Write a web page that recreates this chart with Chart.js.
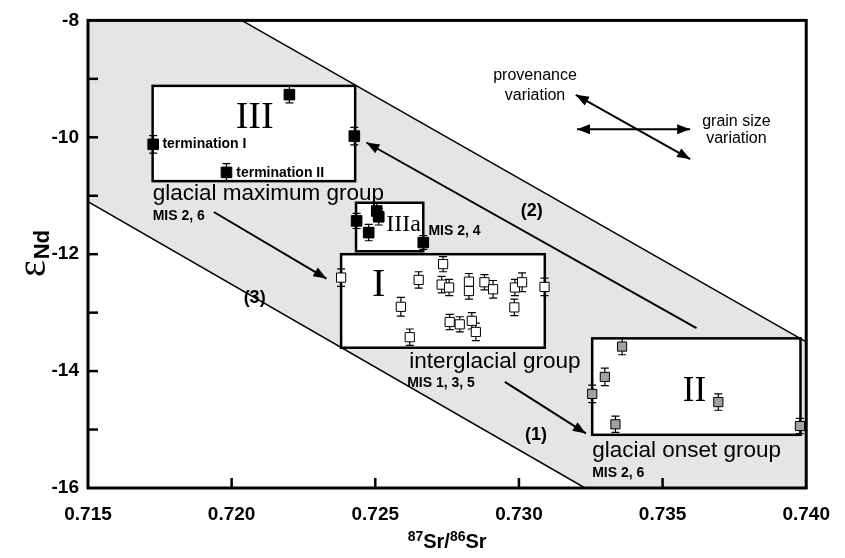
<!DOCTYPE html>
<html>
<head>
<meta charset="utf-8">
<script src="https://cdn.jsdelivr.net/npm/chart.js@4.4.1/dist/chart.umd.min.js"></script>
<style>
  html, body { margin: 0; padding: 0; background: #fff; }
  #wrap { width: 845px; height: 558px; position: relative; }
</style>
</head>
<body>
<div id="wrap"><canvas id="chart"></canvas></div>
<script>
// axis ticks
const xTicks = [0.715, 0.720, 0.725, 0.730, 0.735, 0.740];
const yTicks = [-16, -15, -14, -13, -12, -11, -10, -9, -8];
const yLabeled = [-16, -14, -12, -10, -8];

// glacial maximum group (III, IIIa) - black
const blackX = [0.71727, 0.71982, 0.72201, 0.72427, 0.72435, 0.72477, 0.72505, 0.72512, 0.72667];
const blackY = [-10.12, -10.60, -9.27, -9.98, -11.43, -11.63, -11.26, -11.36, -11.80];
const blackErr = [0.15, 0.15, 0.14, 0.15, 0.13, 0.14, 0.14, 0.14, 0.12];

// interglacial group (I) - open
const openX = [0.72381, 0.72589, 0.72620, 0.72651, 0.72736, 0.72731, 0.72757, 0.72759, 0.72794, 0.72836,
  0.72850, 0.72826, 0.72826, 0.72880, 0.72910, 0.72986, 0.73011, 0.72984, 0.73089];
const openY = [-12.40, -12.90, -13.42, -12.44, -12.17, -12.52, -12.57, -13.16, -13.20, -13.14,
  -13.33, -12.47, -12.63, -12.48, -12.60, -12.57, -12.48, -12.91, -12.56];
const openErr = [0.15, 0.16, 0.14, 0.14, 0.13, 0.14, 0.14, 0.13, 0.13, 0.14,
  0.15, 0.14, 0.14, 0.13, 0.15, 0.14, 0.16, 0.14, 0.15];

// glacial onset group (II) - gray
const grayX = [0.73359, 0.73299, 0.73255, 0.73336, 0.73694, 0.73978];
const grayY = [-13.58, -14.10, -14.39, -14.91, -14.53, -14.94];
const grayErr = [0.14, 0.15, 0.15, 0.14, 0.14, 0.13];

// grey band edges
const bandUpperX = [0.72035, 0.740];
const bandUpperY = [-8, -13.5];
const bandLowerX = [0.715, 0.7323];
const bandLowerY = [-11.1, -16];

// group boxes: III, IIIa, I, II
const boxX0 = [0.71725, 0.72433, 0.72381, 0.73255];
const boxX1 = [0.72430, 0.72667, 0.73090, 0.73980];
const boxY0 = [-10.75, -11.95, -13.60, -15.09];
const boxY1 = [-9.12, -11.12, -12.00, -13.44];

const SANS = '"Liberation Sans", Arial, sans-serif';
const SERIF = '"Liberation Serif", "Times New Roman", serif';

const notes = [
  { t: 'III', x: 0.72080, y: -9.834, f: '38px ' + SERIF, a: 'center' },
  { t: 'termination I', x: 0.71759, y: -10.191, f: 'bold 14px ' + SANS },
  { t: 'termination II', x: 0.72016, y: -10.672, f: 'bold 14px ' + SANS },
  { t: 'glacial maximum group', x: 0.71725, y: -11.069, f: '22.5px ' + SANS },
  { t: 'MIS 2, 6', x: 0.71725, y: -11.414, f: 'bold 14px ' + SANS },
  { t: 'IIIa', x: 0.72538, y: -11.601, f: '24px ' + SERIF },
  { t: 'MIS 2, 4', x: 0.72685, y: -11.674, f: 'bold 14px ' + SANS },
  { t: '(2)', x: 0.73045, y: -11.346, f: 'bold 18px ' + SANS, a: 'center' },
  { t: 'I', x: 0.72512, y: -12.722, f: '40px ' + SERIF, a: 'center' },
  { t: '(3)', x: 0.72080, y: -12.84, f: 'bold 18px ' + SANS, a: 'center' },
  { t: 'interglacial group', x: 0.72618, y: -13.953, f: '22.5px ' + SANS },
  { t: 'MIS 1, 3, 5', x: 0.72611, y: -14.268, f: 'bold 14px ' + SANS },
  { t: '(1)', x: 0.73059, y: -15.185, f: 'bold 18px ' + SANS, a: 'center' },
  { t: 'II', x: 0.73611, y: -14.505, f: '35px ' + SERIF, a: 'center' },
  { t: 'glacial onset group', x: 0.73255, y: -15.468, f: '22.5px ' + SANS },
  { t: 'MIS 2, 6', x: 0.73255, y: -15.813, f: 'bold 14px ' + SANS },
  { t: 'provenance', x: 0.73056, y: -9.019, f: '16px ' + SANS, a: 'center' },
  { t: 'variation', x: 0.73056, y: -9.359, f: '16px ' + SANS, a: 'center' },
  { t: 'grain size', x: 0.73757, y: -9.800, f: '16px ' + SANS, a: 'center' },
  { t: 'variation', x: 0.73757, y: -10.089, f: '16px ' + SANS, a: 'center' }
];

// arrows: from (x0,y0) to (x1,y1), both = double headed
const arrows = [
  { x0: 0.73198, y0: -9.274, x1: 0.73596, y1: -10.373, both: true },
  { x0: 0.73202, y0: -9.863, x1: 0.73596, y1: -9.863, both: true },
  { x0: 0.73618, y0: -13.265, x1: 0.72469, y1: -10.089 },
  { x0: 0.71938, y0: -11.278, x1: 0.72330, y1: -12.416 },
  { x0: 0.72951, y0: -14.183, x1: 0.73233, y1: -15.066 }
];

function pts(xs, ys) {
  return xs.map((v, i) => ({ x: v, y: ys[i] }));
}

function arrowHead(ctx, xt, yt, xf, yf) {
  const ang = Math.atan2(yt - yf, xt - xf);
  const len = 13, half = 5;
  ctx.beginPath();
  ctx.moveTo(xt, yt);
  ctx.lineTo(xt - len * Math.cos(ang) + half * Math.sin(ang), yt - len * Math.sin(ang) - half * Math.cos(ang));
  ctx.lineTo(xt - len * Math.cos(ang) - half * Math.sin(ang), yt - len * Math.sin(ang) + half * Math.cos(ang));
  ctx.closePath();
  ctx.fill();
}

const decor = {
  id: 'decor',
  beforeDatasetsDraw(chart) {
    const { ctx, chartArea: a, scales: { x, y } } = chart;
    ctx.save();
    ctx.beginPath();
    ctx.rect(a.left, a.top, a.width, a.height);
    ctx.clip();

    // band
    ctx.fillStyle = '#e5e5e5';
    ctx.beginPath();
    ctx.moveTo(x.getPixelForValue(0.715), y.getPixelForValue(-8));
    ctx.lineTo(x.getPixelForValue(bandUpperX[0]), y.getPixelForValue(bandUpperY[0]));
    ctx.lineTo(x.getPixelForValue(bandUpperX[1]), y.getPixelForValue(bandUpperY[1]));
    ctx.lineTo(x.getPixelForValue(0.740), y.getPixelForValue(-16));
    ctx.lineTo(x.getPixelForValue(bandLowerX[1]), y.getPixelForValue(bandLowerY[1]));
    ctx.lineTo(x.getPixelForValue(bandLowerX[0]), y.getPixelForValue(bandLowerY[0]));
    ctx.closePath();
    ctx.fill();
    ctx.strokeStyle = '#000';
    ctx.lineWidth = 1.5;
    [[bandUpperX, bandUpperY], [bandLowerX, bandLowerY]].forEach(([bx, by]) => {
      ctx.beginPath();
      ctx.moveTo(x.getPixelForValue(bx[0]), y.getPixelForValue(by[0]));
      ctx.lineTo(x.getPixelForValue(bx[1]), y.getPixelForValue(by[1]));
      ctx.stroke();
    });

    // group boxes
    ctx.lineWidth = 2.5;
    for (let i = 0; i < boxX0.length; i++) {
      const l = x.getPixelForValue(boxX0[i]), r = x.getPixelForValue(boxX1[i]);
      const t = y.getPixelForValue(boxY1[i]), b = y.getPixelForValue(boxY0[i]);
      ctx.fillStyle = '#fff';
      ctx.fillRect(l, t, r - l, b - t);
      ctx.strokeRect(l, t, r - l, b - t);
    }
    ctx.restore();

    // error bars
    ctx.save();
    ctx.strokeStyle = '#000';
    ctx.lineWidth = 1.2;
    [[blackX, blackY, blackErr], [openX, openY, openErr], [grayX, grayY, grayErr]].forEach(([xs, ys, es]) => {
      xs.forEach((v, i) => {
        const px = x.getPixelForValue(v);
        const top = y.getPixelForValue(ys[i] + es[i]);
        const bot = y.getPixelForValue(ys[i] - es[i]);
        ctx.beginPath();
        ctx.moveTo(px, top); ctx.lineTo(px, bot);
        ctx.moveTo(px - 4, top); ctx.lineTo(px + 4, top);
        ctx.moveTo(px - 4, bot); ctx.lineTo(px + 4, bot);
        ctx.stroke();
      });
    });
    ctx.restore();
  },
  afterDraw(chart) {
    const { ctx, chartArea: a, scales: { x, y } } = chart;
    ctx.save();

    // arrows
    ctx.strokeStyle = '#000';
    ctx.fillStyle = '#000';
    ctx.lineWidth = 2;
    arrows.forEach(ar => {
      const x0 = x.getPixelForValue(ar.x0), y0 = y.getPixelForValue(ar.y0);
      const x1 = x.getPixelForValue(ar.x1), y1 = y.getPixelForValue(ar.y1);
      ctx.beginPath();
      ctx.moveTo(x0, y0); ctx.lineTo(x1, y1);
      ctx.stroke();
      arrowHead(ctx, x1, y1, x0, y0);
      if (ar.both) arrowHead(ctx, x0, y0, x1, y1);
    });

    // texts
    ctx.textBaseline = 'alphabetic';
    notes.forEach(n => {
      ctx.font = n.f;
      ctx.textAlign = n.a || 'left';
      ctx.fillText(n.t, x.getPixelForValue(n.x), y.getPixelForValue(n.y));
    });

    // inward ticks
    ctx.lineWidth = 2.5;
    xTicks.slice(1, -1).forEach(v => {
      const px = x.getPixelForValue(v);
      ctx.beginPath();
      ctx.moveTo(px, a.bottom); ctx.lineTo(px, a.bottom - 10);
      ctx.stroke();
    });
    yTicks.slice(1, -1).forEach(v => {
      const py = y.getPixelForValue(v);
      ctx.beginPath();
      ctx.moveTo(a.left, py); ctx.lineTo(a.left + 10, py);
      ctx.stroke();
    });

    // frame
    ctx.lineWidth = 3;
    ctx.strokeRect(a.left, a.top, a.right - a.left, a.bottom - a.top);

    // axis titles
    ctx.textAlign = 'left';
    ctx.font = 'bold 14px ' + SANS;
    let w1 = ctx.measureText('87').width;
    ctx.font = 'bold 20px ' + SANS;
    let w2 = ctx.measureText('Sr/').width, w3 = ctx.measureText('Sr').width;
    let total = 2 * w1 + w2 + w3;
    let cx = (a.left + a.right) / 2 - total / 2, by = 548;
    ctx.font = 'bold 14px ' + SANS; ctx.fillText('87', cx, by - 7); cx += w1;
    ctx.font = 'bold 20px ' + SANS; ctx.fillText('Sr/', cx, by); cx += w2;
    ctx.font = 'bold 14px ' + SANS; ctx.fillText('86', cx, by - 7); cx += w1;
    ctx.font = 'bold 20px ' + SANS; ctx.fillText('Sr', cx, by);

    ctx.translate(45, 254);
    ctx.rotate(-Math.PI / 2);
    ctx.font = '40px ' + SERIF;
    const we = ctx.measureText('ε').width;
    ctx.font = 'bold 22px ' + SANS;
    const wn = ctx.measureText('Nd').width;
    ctx.font = '40px ' + SERIF;
    ctx.fillText('ε', -(we + wn) / 2, 0);
    ctx.font = 'bold 22px ' + SANS;
    ctx.fillText('Nd', -(we + wn) / 2 + we + 1, 4);
    ctx.restore();
  }
};

const markers = (data, fill, r) => ({
  data,
  pointStyle: 'rect',
  pointRadius: r,
  pointHoverRadius: r,
  backgroundColor: fill,
  borderColor: '#000',
  borderWidth: 1
});

new Chart(document.getElementById('chart'), {
  type: 'scatter',
  data: {
    datasets: [
      markers(pts(openX, openY), '#fff', 6.5),
      markers(pts(grayX, grayY), '#a0a0a0', 6.5),
      markers(pts(blackX, blackY), '#000', 7.5)
    ]
  },
  options: {
    responsive: true,
    maintainAspectRatio: false,
    animation: false,
    layout: { padding: { top: 17, right: 37, left: 0, bottom: 0 } },
    plugins: { legend: { display: false }, tooltip: { enabled: false } },
    scales: {
      x: {
        type: 'linear',
        min: 0.715,
        max: 0.740,
        afterBuildTicks: s => { s.ticks = xTicks.map(v => ({ value: v })); },
        afterFit: s => { s.height = 70; },
        grid: { display: false, drawTicks: false },
        border: { display: false },
        ticks: {
          padding: 15,
          color: '#000',
          font: { family: SANS, size: 19, weight: 'bold' },
          callback: v => v.toFixed(3)
        }
      },
      y: {
        type: 'linear',
        min: -16,
        max: -8,
        afterBuildTicks: s => { s.ticks = yTicks.map(v => ({ value: v })); },
        afterFit: s => { s.width = 88; },
        grid: { display: false, drawTicks: false },
        border: { display: false },
        ticks: {
          padding: 9,
          color: '#000',
          font: { family: SANS, size: 19, weight: 'bold' },
          callback: v => yLabeled.includes(v) ? String(v) : ''
        }
      }
    }
  },
  plugins: [decor]
});
</script>
</body>
</html>
